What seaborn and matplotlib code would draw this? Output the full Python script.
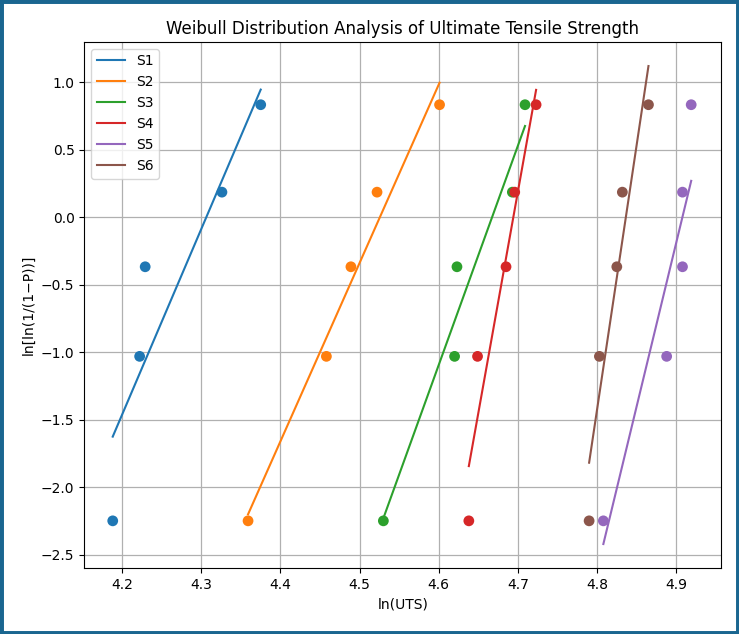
import numpy as np
import pandas as pd
import seaborn as sns
import matplotlib.pyplot as plt
from matplotlib.patches import Rectangle

# ln(UTS) per sample, sorted
s1 = [4.188, 4.222, 4.229, 4.326, 4.375]
s2 = [4.359, 4.458, 4.489, 4.522, 4.601]
s3 = [4.530, 4.620, 4.623, 4.693, 4.709]
s4 = [4.638, 4.649, 4.685, 4.696, 4.723]
s5 = [4.808, 4.888, 4.908, 4.908, 4.919]
s6 = [4.790, 4.803, 4.825, 4.832, 4.865]
names = ["S1", "S2", "S3", "S4", "S5", "S6"]
# median rank positions ln(ln(1/(1-P)))
yvals = [-2.250, -1.031, -0.367, 0.186, 0.834]

rows = []
for name, xs in zip(names, [s1, s2, s3, s4, s5, s6]):
    for x, y in zip(xs, yvals):
        rows.append((name, x, y))
df = pd.DataFrame(rows, columns=["Sample", "lnUTS", "lnln"])

fits = []
for name, g in df.groupby("Sample"):
    k, b = np.polyfit(g["lnUTS"], g["lnln"], 1)
    xe = np.array([g["lnUTS"].min(), g["lnUTS"].max()])
    for x in xe:
        fits.append((name, x, k * x + b))
fit = pd.DataFrame(fits, columns=["Sample", "lnUTS", "lnln"])

pal = sns.color_palette("tab10", 6)

fig = plt.figure(figsize=(7.39, 6.34), dpi=100)
ax = fig.add_axes([0.114, 0.104, 0.862, 0.83])

sns.scatterplot(data=df, x="lnUTS", y="lnln", hue="Sample", palette=pal,
                s=60, edgecolor="none", legend=False, ax=ax, zorder=3)
sns.lineplot(data=fit, x="lnUTS", y="lnln", hue="Sample", palette=pal,
             linewidth=1.5, ax=ax, zorder=2)

ax.set_xlim(4.152, 4.957)
ax.set_ylim(-2.6, 1.3)
ax.set_xticks([4.2, 4.3, 4.4, 4.5, 4.6, 4.7, 4.8, 4.9])
ax.grid(True, color="#b0b0b0", linewidth=0.9)
ax.set_axisbelow(True)
ax.tick_params(labelsize=10)
ax.set_xlabel("ln(UTS)", fontsize=10)
ax.set_ylabel("ln[ln(1/(1\u2212P))]", fontsize=10)
ax.set_title("Weibull Distribution Analysis of Ultimate Tensile Strength", fontsize=12)
ax.legend(loc="upper left", fontsize=10, title=None)

fig.patches.append(Rectangle((0, 0), 1, 1, transform=fig.transFigure, fill=False,
                             edgecolor="#1a6690", linewidth=5))

plt.savefig("out.png", dpi=100)
